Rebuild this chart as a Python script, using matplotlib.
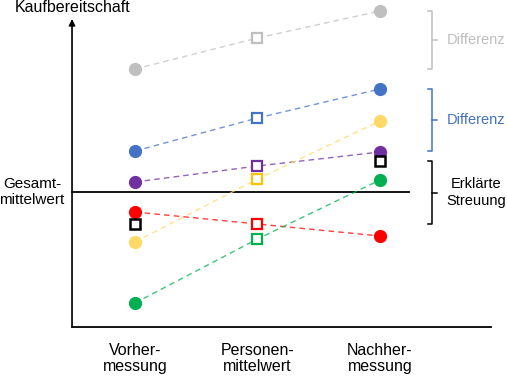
import numpy as np
import matplotlib.pyplot as plt

plt.rcParams['font.family'] = ['Liberation Sans', 'DejaVu Sans']

# Messzeitpunkte
positions = [1, 2, 3]
tick_labels = ['Vorher-\nmessung', 'Personen-\nmittelwert', 'Nachher-\nmessung']

# Kaufbereitschaft je Person (Vorher, Personenmittelwert, Nachher)
gray = [25.8, 28.9, 31.6]
blue = [17.6, 20.9, 23.8]
purple = [14.5, 16.1, 17.5]
yellow = [8.5, 14.8, 20.6]
red = [11.5, 10.3, 9.1]
green = [2.4, 8.8, 14.7]

# Mittelwerte der Messzeitpunkte
time_means = [10.3, 16.6]
grand_mean = 13.5

series = [
    (gray, '#BFBFBF', '#BFBFBF', '#BFBFBF'),
    (blue, '#4472C4', '#4472C4', '#4472C4'),
    (purple, '#7030A0', '#7030A0', '#7030A0'),
    (yellow, '#FFD966', '#FFC000', '#FFD966'),
    (red, '#FF0000', '#FF0000', '#FF0000'),
    (green, '#00B050', '#00B050', '#00B050'),
]

fig = plt.figure(figsize=(5.07, 3.76), dpi=100)
ax = fig.add_axes([0, 0, 1, 1])
ax.set_xlim(-0.102, 4.037)
ax.set_ylim(-4.9, 32.7)
ax.axis('off')

x_axis = 0.486
fs = 11.5
# Achsen
ax.annotate('', xy=(x_axis, 30.8), xytext=(x_axis, 0),
            arrowprops=dict(arrowstyle='-|>', color='black', lw=1.2,
                            mutation_scale=9, shrinkA=0, shrinkB=0))
ax.plot([x_axis, 3.906], [0, 0], color='black', lw=1.3)
ax.plot([x_axis, 3.237], [grand_mean, grand_mean], color='black', lw=1.3)

for vals, c_dot, c_sq, c_line in series:
    ax.plot(positions, vals, ls=(0, (4, 3)), lw=1, color=c_line, alpha=0.75, zorder=2)
    ax.plot([positions[0], positions[2]], [vals[0], vals[2]], 'o', ms=8.5,
            color=c_dot, mec=c_dot, zorder=3)
    ax.plot(positions[1], vals[1], 's', ms=7.5, mfc='white', mec=c_sq, mew=1.6, zorder=3)

ax.plot([positions[0], positions[2]], time_means, 's', ms=7.5, mfc='white',
        mec='black', mew=1.8, zorder=3)


def bracket(lo, hi, color, label):
    xb = 3.424
    hook = 0.035
    mid = (lo + hi) / 2
    ax.plot([xb - hook, xb, xb, xb - hook], [hi, hi, lo, lo], color=color, lw=1.1)
    ax.plot([xb, xb + 0.045], [mid, mid], color=color, lw=1.1)
    ax.text(3.785, mid, label, color=color, fontsize=10.5, ha='center', va='center',
            linespacing=1.2)


bracket(gray[0], gray[2], '#BFBFBF', 'Differenz')
bracket(blue[0], blue[2], '#4472C4', 'Differenz')
bracket(time_means[0], time_means[1], 'black', 'Erklärte\nStreuung')

ax.text(0.02, 31.9, 'Kaufbereitschaft', fontsize=fs, ha='left', va='center')
ax.text(0.159, grand_mean, 'Gesamt-\nmittelwert', fontsize=11, ha='center',
        va='center', linespacing=1.2)
for p, lab in zip(positions, tick_labels):
    ax.text(p, -3.15, lab, fontsize=fs, ha='center', va='center', linespacing=1.15)

fig.savefig('out.png', dpi=100)
